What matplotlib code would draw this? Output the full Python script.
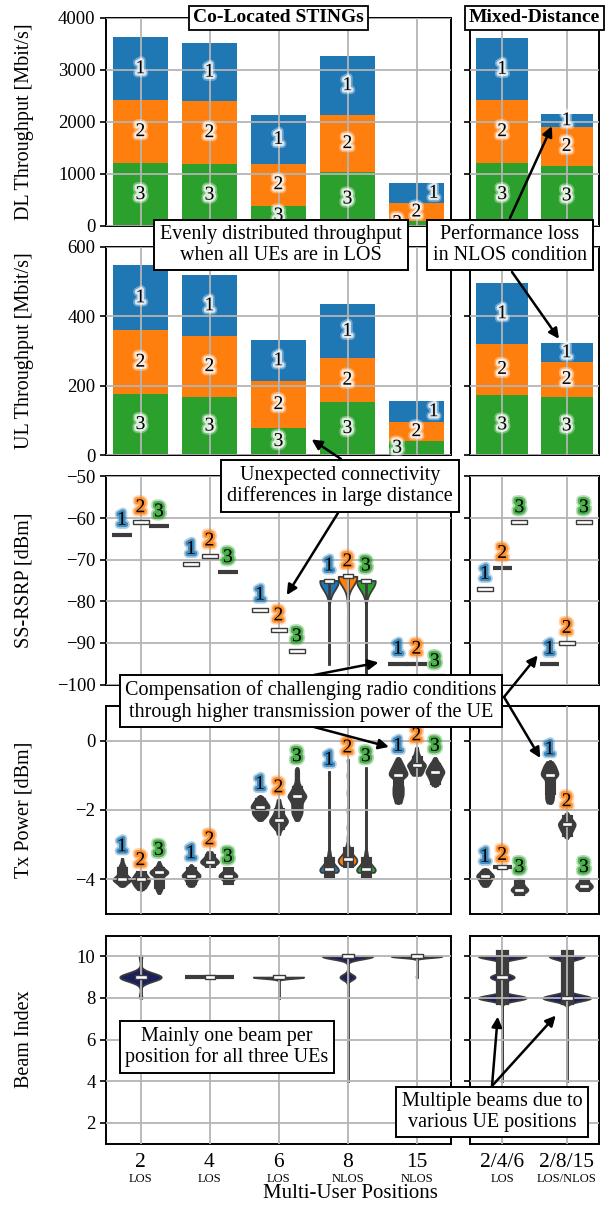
import numpy as np
import matplotlib
matplotlib.use("Agg")
import matplotlib.pyplot as plt
import matplotlib.patheffects as pe

plt.rcParams['font.family'] = 'serif'
plt.rcParams['font.serif'] = ['Liberation Serif', 'DejaVu Serif']
plt.rcParams['axes.unicode_minus'] = True

# ---------------- data ----------------
positions = ['2', '4', '6', '8', '15', '2/4/6', '2/8/15']
conditions = ['LOS', 'LOS', 'LOS', 'NLOS', 'NLOS', 'LOS', 'LOS/NLOS']

# throughput per UE [Mbit/s]
dl_ue1 = [1210, 1120, 930, 1140, 380, 1190, 250]
dl_ue2 = [1210, 1210, 810, 1090, 340, 1210, 740]
dl_ue3 = [1210, 1190, 390, 1040, 100, 1210, 1160]
ul_ue1 = [187, 175, 118, 156, 60, 175, 54]
ul_ue2 = [184, 176, 135, 126, 55, 146, 100]
ul_ue3 = [176, 167, 78, 153, 40, 174, 168]

# SS-RSRP samples per UE: (values [dBm], counts)
rsrp_ue1 = [([-64], [1]), ([-71], [1]), ([-82], [1]),
            ([-75, -76, -77, -78, -80, -85, -90, -95], [60, 5, 3, 2, 1, 1, 1, 1]),
            ([-95], [1]), ([-77], [1]), ([-95], [1])]
rsrp_ue2 = [([-61], [1]), ([-69], [1]), ([-87], [1]),
            ([-74, -75, -76, -77, -79, -85, -90, -95], [60, 5, 3, 2, 1, 1, 1, 1]),
            ([-95], [1]), ([-72], [1]), ([-90], [1])]
rsrp_ue3 = [([-62], [1]), ([-73], [1]), ([-92], [1]),
            ([-75, -76, -77, -78, -80, -85, -90, -100], [60, 5, 3, 2, 1, 1, 1, 1]),
            ([-98], [1]), ([-61], [1]), ([-61], [1])]

# Tx power samples per UE: (values [dBm], counts)
tx_ue1 = [([-4.2, -4.1, -4.0, -3.9, -3.8, -3.7, -3.6, -3.5, -3.4], [2, 6, 13, 5, 4, 5, 3, 1, 1]),
          ([-4.2, -4.1, -4.0, -3.9, -3.8, -3.7, -3.6], [2, 4, 4, 9, 5, 3, 1]),
          ([-2.3, -2.2, -2.1, -2.0, -1.9, -1.8, -1.7, -1.6], [1, 3, 5, 4, 6, 4, 3, 1]),
          ([-3.8, -3.7, -3.6, -3.5, -3.4, -3.3, -3.2, -3.0, -2.5, -2.0, -1.5, -1.0, -0.9],
           [16, 16, 10, 6, 4, 2, 2, 1, 1, 1, 1, 1, 1]),
          ([-1.8, -1.7, -1.6, -1.5, -1.4, -1.3, -1.2, -1.1, -1.0, -0.9, -0.8, -0.7, -0.6, -0.5],
           [2, 2, 3, 3, 3, 3, 2, 2, 6, 5, 4, 3, 2, 1]),
          ([-4.2, -4.1, -4.0, -3.9, -3.8, -3.7], [2, 4, 5, 8, 4, 2]),
          ([-1.8, -1.7, -1.6, -1.5, -1.4, -1.3, -1.2, -1.1, -1.0, -0.9, -0.8, -0.7, -0.6],
           [2, 3, 3, 3, 3, 3, 3, 3, 7, 6, 5, 4, 2])]
tx_ue2 = [([-4.3, -4.2, -4.1, -4.0, -3.9, -3.8], [2, 5, 6, 8, 5, 4]),
          ([-3.6, -3.5, -3.4, -3.3, -3.2], [3, 9, 4, 3, 2]),
          ([-2.7, -2.6, -2.5, -2.4, -2.3, -2.2, -2.1, -2.0, -1.9, -1.8, -1.7],
           [1, 1, 3, 5, 6, 4, 3, 2, 2, 1, 1]),
          ([-3.6, -3.5, -3.4, -3.3, -3.2, -3.1, -3.0, -2.8, -2.5, -2.0, -1.5, -1.0, -0.55],
           [10, 14, 14, 8, 5, 3, 2, 1, 1, 1, 1, 1, 1]),
          ([-1.0, -0.9, -0.8, -0.7, -0.6, -0.5, -0.4, -0.3, -0.2], [3, 5, 5, 8, 4, 3, 2, 1, 1]),
          ([-3.65], [1]),
          ([-2.8, -2.7, -2.6, -2.5, -2.4, -2.3, -2.2, -2.1], [1, 3, 5, 6, 8, 5, 3, 1])]
tx_ue3 = [([-4.4, -4.3, -4.2, -4.1, -4.0, -3.9, -3.8, -3.7, -3.6, -3.5], [1, 3, 4, 3, 3, 4, 12, 5, 2, 1]),
          ([-4.1, -4.0, -3.9, -3.8, -3.7], [2, 4, 8, 4, 2]),
          ([-2.3, -2.2, -2.1, -2.0, -1.9, -1.8, -1.7, -1.6, -1.5, -1.4, -1.3, -1.2, -1.1, -1.0, -0.9, -0.8],
           [1, 2, 3, 3, 3, 3, 4, 6, 4, 3, 2, 1, 1, 1, 1, 1]),
          ([-3.8, -3.7, -3.6, -3.5, -3.4, -3.3, -3.2, -3.0, -2.5, -2.0, -1.5, -1.0, -0.8],
           [16, 16, 10, 6, 4, 2, 2, 1, 1, 1, 1, 1, 1]),
          ([-1.3, -1.2, -1.1, -1.0, -0.9, -0.8, -0.7, -0.6, -0.5], [2, 3, 4, 5, 7, 5, 4, 2, 1]),
          ([-4.4, -4.3, -4.2, -4.1, -4.0], [3, 8, 3, 3, 2]),
          ([-4.3, -4.2, -4.1, -4.0], [4, 8, 4, 2])]

# beam index samples per position (all UEs): (values, counts)
beam = [([8, 9, 10], [2, 30, 2]),
        ([9], [1]),
        ([8, 9], [1, 60]),
        ([4, 9, 10], [1, 90, 300]),
        ([9, 10], [1, 60]),
        ([4, 8, 9, 10], [1, 100, 50, 100]),
        ([4, 8, 9, 10], [1, 150, 10, 110])]

# how constant samples are drawn
rsrp_kind = [['line', 'box', 'box', 'violin', 'line', 'box', 'line'],
             ['box', 'box', 'box', 'violin', 'line', 'line', 'box'],
             ['line', 'line', 'box', 'violin', 'line', 'box', 'box']]
tx_kind = [['violin'] * 7,
           ['violin'] * 5 + ['linebox', 'violin'],
           ['violin'] * 7]
beam_kind = ['violin', 'linebox', 'violin', 'violin', 'violin', 'violin', 'violin']
beam_width = [0.6, 0.72, 0.73, 0.73, 0.73, 0.74, 0.74]
beam_bw = [0.2, 0.1, 0.06, 0.13, 0.06, 0.13, 0.15]
tx_width = [0.26, 0.26, 0.26, 0.27, 0.26, 0.26, 0.26]
tx_colored = [False, False, False, True, False, False, False]

# ---------------- style ----------------
ue_colors = ['#1f77b4', '#ff7f0e', '#2ca02c']
dark = '#3c3c3c'
navy = '#1c1f5e'
offsets = [-0.267, 0.0, 0.267]
rect = [(-1, -0.3), (1, -0.3), (1, 0.3), (-1, 0.3), (-1, -0.3)]
bar_label_shift = {4: [0.25, 0.0, -0.28]}

W, H = 613, 1205
fig = plt.figure(figsize=(W / 100, H / 100), dpi=100)
cols = [(106, 451), (470, 599)]
tops = [18, 247, 476.5, 706, 935.5]
ah = 208
groups = [list(range(0, 5)), list(range(5, 7))]

axes = []
for t in tops:
    row = []
    for x0, x1 in cols:
        row.append(fig.add_axes([x0 / W, 1 - (t + ah) / H, (x1 - x0) / W, ah / H]))
    axes.append(row)

ylims = [(0, 4000), (0, 600), (-100, -50), (-5, 1), (1, 11)]
yticks = [[0, 1000, 2000, 3000, 4000], [0, 200, 400, 600], [-100, -90, -80, -70, -60, -50],
          [-4, -2, 0], [2, 4, 6, 8, 10]]
ylabels = ['DL Throughput [Mbit/s]', 'UL Throughput [Mbit/s]', 'SS-RSRP [dBm]',
           'Tx Power [dBm]', 'Beam Index']

for r, row in enumerate(axes):
    for c, ax in enumerate(row):
        n = len(groups[c])
        ax.set_xlim(-0.5, n - 0.5)
        ax.set_ylim(*ylims[r])
        ax.set_yticks(yticks[r])
        ax.set_xticks(range(n))
        ax.set_xticklabels([])
        ax.set_axisbelow(False)
        ax.grid(True, color='#b4b4b4', lw=1.3)
        for s in ax.spines.values():
            s.set_linewidth(1.4)
            s.set_color('black')
        ax.tick_params(axis='y', direction='out', length=4, width=1.2, labelsize=13.5)
        ax.tick_params(axis='x', length=0)
        if c == 1:
            ax.tick_params(labelleft=False)
        else:
            ax.set_ylabel(ylabels[r], fontsize=14.5)
            ax.yaxis.set_label_coords(-0.21, 0.5)


def glow(color, big=6, small=3.5):
    return [pe.Stroke(linewidth=big, foreground=color, alpha=0.35),
            pe.Stroke(linewidth=small, foreground=color, alpha=0.75),
            pe.Normal()]


# ---------------- throughput bars ----------------
def bar_panel(r, ue1, ue2, ue3):
    for c, ax in enumerate(axes[r]):
        idx = groups[c]
        xs = np.arange(len(idx))
        v3 = np.array([ue3[i] for i in idx])
        v2 = np.array([ue2[i] for i in idx])
        v1 = np.array([ue1[i] for i in idx])
        ax.bar(xs, v3, width=0.8, color=ue_colors[2], zorder=1)
        ax.bar(xs, v2, width=0.8, bottom=v3, color=ue_colors[1], zorder=1)
        ax.bar(xs, v1, width=0.8, bottom=v3 + v2, color=ue_colors[0], zorder=1)
        for j, i in enumerate(idx):
            shift = bar_label_shift.get(i, [0, 0, 0])
            segs = [(v3[j] + v2[j], v1[j]), (v3[j], v2[j]), (0, v3[j])]
            for u, (b, h) in enumerate(segs):
                ax.text(j + shift[u], b + h / 2, str(u + 1), ha='center', va='center',
                        fontsize=14, zorder=4, path_effects=glow('white', 6, 3.5))


bar_panel(0, dl_ue1, dl_ue2, dl_ue3)
bar_panel(1, ul_ue1, ul_ue2, ul_ue3)


# ---------------- violins ----------------
def kde(vals, cnts, bw):
    v = np.asarray(vals, float)
    w = np.asarray(cnts, float)
    grid = np.linspace(v.min(), v.max(), 300)
    dens = (w[None, :] * np.exp(-0.5 * ((grid[:, None] - v[None, :]) / bw) ** 2)).sum(axis=1)
    return grid, dens / dens.max()


def median_mark(ax, x, y, size):
    ax.plot([x], [y], marker=rect, ms=size, mfc='white', mec=dark, mew=1.0, zorder=3)


def violin(ax, x, vals, cnts, width, face, bw, mark=7.5, box_lw=9):
    grid, dens = kde(vals, cnts, bw)
    half = dens * width / 2
    ax.fill_betweenx(grid, x - half, x + half, facecolor=face, edgecolor=dark, lw=1.3, zorder=1.5)
    sample = np.repeat(vals, cnts)
    q1, med, q3 = np.percentile(sample, [25, 50, 75])
    ax.plot([x, x], [min(vals), max(vals)], color=dark, lw=2, zorder=2)
    if q3 > q1:
        ax.plot([x, x], [q1, q3], color=dark, lw=box_lw, solid_capstyle='projecting', zorder=2)
    median_mark(ax, x, med, mark)


def flat(ax, x, y, kind, hw):
    if 'line' in kind:
        ax.plot([x - hw, x + hw], [y, y], color=dark, lw=3, solid_capstyle='butt', zorder=2)
    if kind == 'box':
        median_mark(ax, x, y, 11.5)
    elif kind == 'linebox':
        median_mark(ax, x, y, 7.5)


def ue_panel(r, data, kinds, widths, colored, bw, dy, box_lw):
    for c, ax in enumerate(axes[r]):
        for j, i in enumerate(groups[c]):
            for u in range(3):
                vals, cnts = data[u][i]
                x = j + offsets[u]
                kind = kinds[u][i]
                if kind == 'violin':
                    face = ue_colors[u] if colored[i] else dark
                    violin(ax, x, vals, cnts, widths[i], face, bw, box_lw=box_lw)
                else:
                    flat(ax, x, vals[0], kind, 0.145)
                ax.annotate(str(u + 1), (x, max(vals)), xytext=(0, dy), textcoords='offset points',
                            ha='center', va='center', fontsize=14, zorder=4,
                            path_effects=glow(ue_colors[u]))


ue_panel(2, [rsrp_ue1, rsrp_ue2, rsrp_ue3], rsrp_kind, [0.27] * 7, [True] * 7, 2.0, 10.5, 9)
ue_panel(3, [tx_ue1, tx_ue2, tx_ue3], tx_kind, tx_width, tx_colored, 0.07, 8.5, 8)

for c, ax in enumerate(axes[4]):
    for j, i in enumerate(groups[c]):
        vals, cnts = beam[i]
        if beam_kind[i] == 'violin':
            violin(ax, j, vals, cnts, beam_width[i], navy, beam_bw[i], mark=8, box_lw=9.5)
        else:
            flat(ax, j, vals[0], beam_kind[i], beam_width[i] / 2)

# ---------------- x axis labels ----------------
for c, ax in enumerate(axes[4]):
    idx = groups[c]
    ax.set_xticklabels([positions[i] for i in idx], fontsize=15.5)
    ax.tick_params(axis='x', pad=7)
    for j, i in enumerate(idx):
        ax.text(j, -35 / ah, conditions[i], transform=ax.get_xaxis_transform(),
                ha='center', va='center', fontsize=9)
fig.text(350 / W, 1 - 1194 / H, 'Multi-User Positions', ha='center', va='center', fontsize=15)

# ---------------- titles and annotations ----------------
title_box = dict(boxstyle='square,pad=0.2', fc='white', ec='black', lw=1.3)
axes[0][0].text(0.5, 1.0, 'Co-Located STINGs', transform=axes[0][0].transAxes, ha='center',
                va='center', fontsize=14, fontweight='bold', bbox=title_box, zorder=6, clip_on=False)
axes[0][1].text(0.5, 1.0, 'Mixed-Distance', transform=axes[0][1].transAxes, ha='center',
                va='center', fontsize=14, fontweight='bold', bbox=title_box, zorder=6, clip_on=False)


def fp(x, y):
    return (x / W, 1 - y / H)


note_box = dict(boxstyle='square,pad=0.28', fc='white', ec='black', lw=1.4)
notes = [('Evenly distributed throughput\nwhen all UEs are in LOS', 281, 245),
         ('Performance loss\nin NLOS condition', 510, 245),
         ('Unexpected connectivity\ndifferences in large distance', 340, 486),
         ('Compensation of challenging radio conditions\nthrough higher transmission power of the UE', 311, 701),
         ('Mainly one beam per\nposition for all three UEs', 227, 1047),
         ('Multiple beams due to\nvarious UE positions', 492, 1112)]
for txt, x, y in notes:
    fig.text(*fp(x, y), txt, ha='center', va='center', fontsize=14.5, linespacing=1.12,
             bbox=note_box, zorder=6)

arrows = [((510, 218), axes[0][1], (0.77, 1920)),
          ((512, 272), axes[1][1], (0.88, 335)),
          ((341, 459), axes[1][0], (2.48, 45)),
          ((338, 513), axes[2][0], (2.12, -78.5)),
          ((314, 675), axes[2][0], (3.45, -94.7)),
          ((504, 697), axes[2][1], (0.55, -93)),
          ((314, 727), axes[3][0], (3.6, -0.18)),
          ((504, 697), axes[3][1], (0.59, -0.5)),
          ((492, 1086), axes[4][1], (-0.07, 7.1)),
          ((492, 1086), axes[4][1], (0.83, 7.15))]
for start, ax, xy in arrows:
    fig.add_artist(matplotlib.text.Annotation(
        '', xy=xy, xycoords=ax.transData, xytext=fp(*start), textcoords='figure fraction',
        arrowprops=dict(arrowstyle='-|>', color='black', lw=1.8, mutation_scale=15,
                        shrinkA=0, shrinkB=0), zorder=5))

fig.savefig('out.png', dpi=100)
